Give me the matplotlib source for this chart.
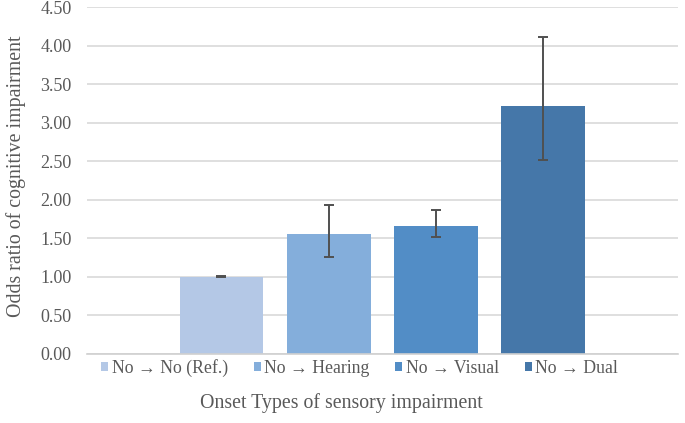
import numpy as np
import matplotlib.pyplot as plt
from matplotlib.patches import Patch

# Odds ratios with confidence limits
groups = ["No \u2192 No (Ref.)", "No \u2192 Hearing", "No \u2192 Visual", "No \u2192 Dual"]
odds = [1.00, 1.55, 1.66, 3.22]
lower = [0.99, 1.26, 1.51, 2.52]
upper = [1.01, 1.93, 1.87, 4.11]
colors = ["#B4C8E6", "#84AEDB", "#528DC6", "#4577A9"]

plt.rcParams['font.family'] = ['Liberation Serif', 'DejaVu Serif']

fig = plt.figure(figsize=(6.85, 4.23), dpi=100)
ax = fig.add_axes([0.127, 0.164, 0.863, 0.819])

x = np.arange(len(groups))
yerr = [np.array(odds) - np.array(lower), np.array(upper) - np.array(odds)]
ax.bar(x, odds, width=0.78, color=colors, zorder=2)
ax.errorbar(x, odds, yerr=yerr, fmt='none', ecolor='#505050', elinewidth=1.4,
            capsize=3.5, capthick=1.4, zorder=3)

ax.set_ylim(0, 4.5)
ax.set_xlim(-1.253, 4.258)
ticks = np.arange(0, 4.51, 0.5)
ax.set_yticks(ticks)
ax.set_yticklabels([f"{v:.2f}" for v in ticks])
ax.set_xticks([])
ax.yaxis.grid(True, color='#D9D9D9', linewidth=1.2, zorder=0)
ax.set_axisbelow(True)
for s in ['top', 'right', 'left']:
    ax.spines[s].set_visible(False)
ax.spines['bottom'].set_color('#D0D0D0')
ax.spines['bottom'].set_linewidth(1.2)
ax.tick_params(axis='y', length=0, labelsize=13, labelcolor='#595959', pad=11)

fig.text(0.024, 0.583, "Odds ratio of cognitive impairment", rotation=90,
         ha='center', va='center', fontsize=14.3, color='#595959')
fig.text(0.498, 0.047, "Onset Types of sensory impairment",
         ha='center', va='center', fontsize=14.3, color='#595959')

handles = [Patch(facecolor=c) for c in colors]
fig.legend(handles, groups, loc='center', bbox_to_anchor=(0.525, 0.130), ncol=4,
           frameon=False, fontsize=12.75, handlelength=0.4, handleheight=0.4,
           handletextpad=0.2, columnspacing=1.45, labelcolor='#595959')

fig.savefig("out.png", dpi=100)
